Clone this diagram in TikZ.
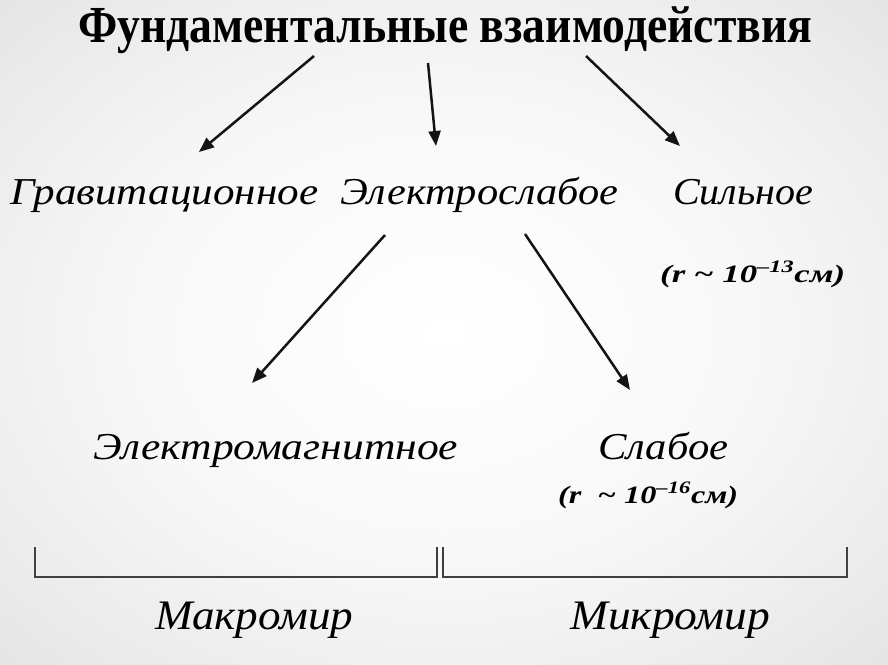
\documentclass[tikz,border=0pt]{standalone}
\usepackage{fontspec}
\usepackage{graphicx}
\setmainfont{Liberation Serif}
\usetikzlibrary{arrows.meta}
\newcommand\fitw[2]{\resizebox{#1}{\height}{#2}}
\newcommand\labfont{\fontsize{38}{42}\selectfont\itshape}
\newcommand\smallfont{\fontsize{25}{29}\selectfont\bfseries\itshape}
\newcommand\tld{\textasciitilde}
\pgfdeclareradialshading{bgshade}{\pgfpoint{0bp}{0bp}}{color(0bp)=(white); color(18bp)=(white!97!black); color(50bp)=(black!16); color(72bp)=(black!26)}
\tikzset{
  arr/.style={line width=2.5pt, draw=black!92, -{Triangle[length=15pt,width=12pt]}},
  brk/.style={line width=1.8pt, draw=black!75},
  txt/.style={anchor=base west, inner sep=0pt, text=black}
}
\begin{document}
\begin{tikzpicture}[x=1pt,y=-1pt]
\useasboundingbox (0,0) rectangle (888,664);
\shade[shading=bgshade] (0,0) rectangle (888,664);

\node[txt] (title) at (78,42) {\fitw{734pt}{\fontsize{52}{56}\selectfont\bfseries Фундаментальные взаимодействия}};

\node[txt] (grav) at (10,204) {\fitw{308pt}{\labfont Гравитационное}};
\node[txt] (ew) at (340,204) {\fitw{278pt}{\labfont Электрослабое}};
\node[txt] (strong) at (673,204) {\fitw{140pt}{\labfont Сильное}};
\node[txt] (strongr) at (660,282) {\fitw{185pt}{\smallfont (r \tld\ 10\textsuperscript{–13}см)}};

\node[txt] (em) at (93,459) {\fitw{365pt}{\labfont Электромагнитное}};
\node[txt] (weak) at (598,459) {\fitw{130pt}{\labfont Слабое}};
\node[txt] (weakr) at (558,503) {\fitw{180pt}{\smallfont (r \ \tld\ 10\textsuperscript{–16}см)}};

\node[txt] (macro) at (155,629) {\fitw{198pt}{\fontsize{42}{46}\selectfont\itshape Макромир}};
\node[txt] (micro) at (570,629) {\fitw{200pt}{\fontsize{42}{46}\selectfont\itshape Микромир}};

\coordinate (a1s) at (314,56);  \coordinate (a1e) at (199,152);
\coordinate (a2s) at (428,63);  \coordinate (a2e) at (436,146);
\coordinate (a3s) at (586,56);  \coordinate (a3e) at (680,146);
\coordinate (a4s) at (385,235); \coordinate (a4e) at (252,383);
\coordinate (a5s) at (525,234); \coordinate (a5e) at (630,390);

\draw[arr] (a1s) -- (a1e);
\draw[arr] (a2s) -- (a2e);
\draw[arr] (a3s) -- (a3e);
\draw[arr] (a4s) -- (a4e);
\draw[arr] (a5s) -- (a5e);

\draw[brk] (35,547) -- (35,577) -- (437,577) -- (437,547);
\draw[brk] (443,547) -- (443,577) -- (847,577) -- (847,547);
\end{tikzpicture}
\end{document}
